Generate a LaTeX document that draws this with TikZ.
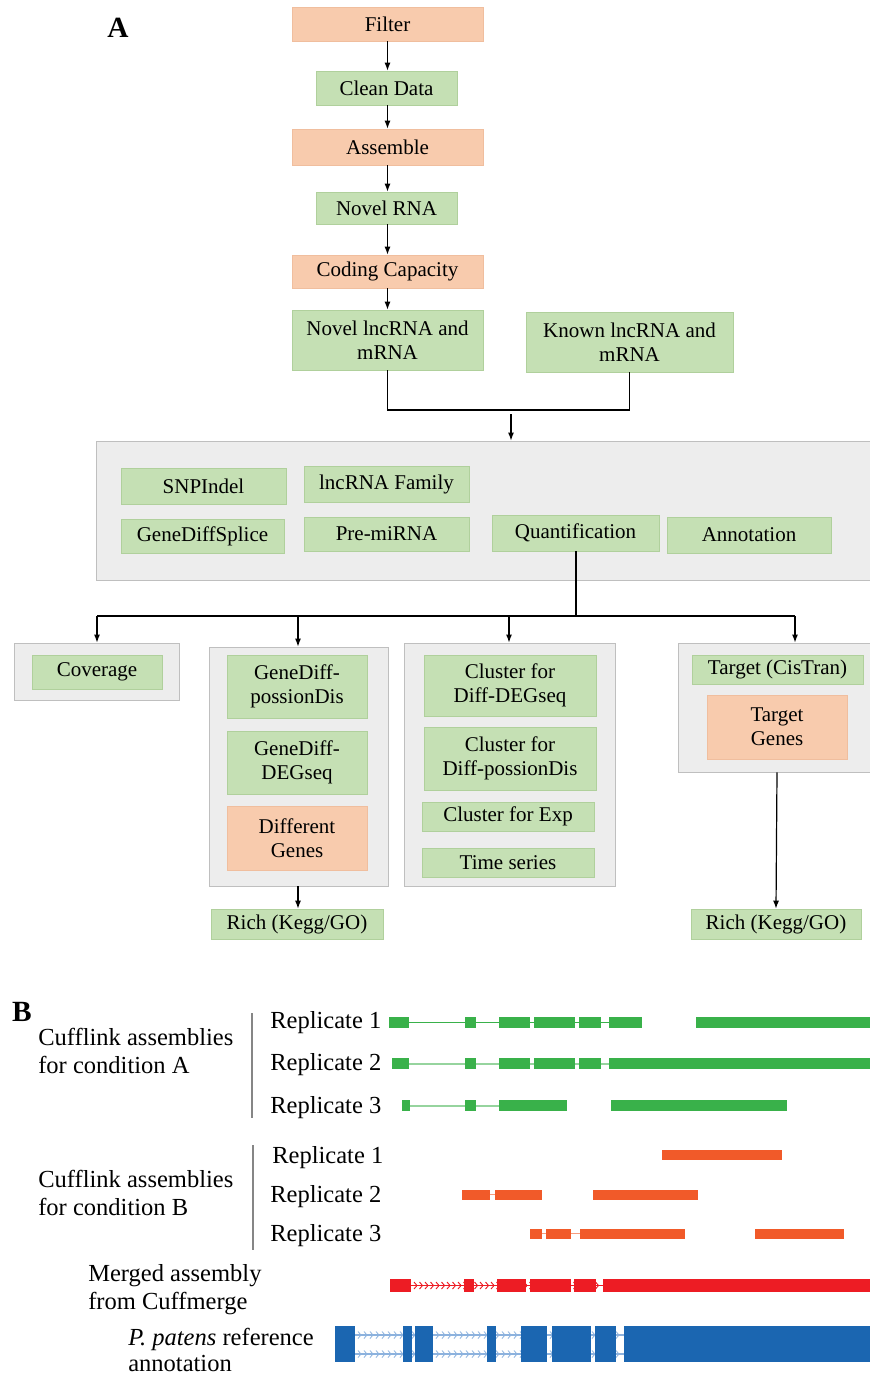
\documentclass[tikz,border=0pt]{standalone}
\usepackage{fontspec}
\setmainfont{Liberation Serif}
\usetikzlibrary{arrows.meta}
\definecolor{G}{RGB}{197, 224, 180}
\definecolor{Gd}{RGB}{176, 208, 156}
\definecolor{S}{RGB}{248, 203, 173}
\definecolor{Sd}{RGB}{240, 190, 158}
\definecolor{Gr}{RGB}{237, 237, 237}
\definecolor{Grd}{RGB}{191, 191, 191}
\definecolor{TG}{RGB}{57, 177, 74}
\definecolor{TGl}{RGB}{150, 212, 158}
\definecolor{TO}{RGB}{241, 90, 41}
\definecolor{TR}{RGB}{237, 28, 36}
\definecolor{TB}{RGB}{27, 102, 177}
\definecolor{TBl}{RGB}{140, 178, 222}

\newcommand{\boxfont}{\fontsize{15.75}{18}\selectfont}
\newcommand{\trackfont}{\fontsize{18.4}{21}\selectfont}

\tikzset{
  wh/.style 2 args={minimum width=#1*0.75pt, minimum height=#2*0.75pt},
  gbox/.style={fill=G, draw=Gd, line width=0.5pt, inner sep=0pt, align=center, font=\boxfont},
  sbox/.style={fill=S, draw=Sd, line width=0.5pt, inner sep=0pt, align=center, font=\boxfont},
  grp/.style={fill=Gr, draw=Grd, line width=0.6pt, inner sep=0pt},
  arr/.style={-{Latex[length=6pt, width=4.5pt]}, line width=0.9pt},
  link/.style={line width=0.9pt},
  lbl/.style={anchor=west, align=left, inner sep=0pt, font=\trackfont},
}

\begin{document}
\begin{tikzpicture}[x=0.75pt, y=-0.75pt]
  \useasboundingbox (0,0) rectangle (870,1377);

  % ---- part A: pipeline
  \node[font=\bfseries\fontsize{22}{24}\selectfont] (labA) at (118,28) {A};
  \node[sbox, wh={191}{34}] (filter) at (387.5,24) {Filter};
  \node[gbox, wh={141}{34}] (clean) at (386.5,88) {Clean Data};
  \node[sbox, wh={191}{36}] (assem) at (387.5,147) {Assemble};
  \node[gbox, wh={141}{32}] (novrna) at (386.5,208) {Novel RNA};
  \node[sbox, wh={191}{33}] (coding) at (387.5,271.5) {Coding Capacity};
  \node[gbox, wh={191}{60}] (novlnc) at (387.5,340) {Novel lncRNA and\\mRNA};
  \node[gbox, wh={207}{60}] (knownlnc) at (629.5,342) {Known lncRNA and\\mRNA};

  \draw[arr] (filter.south) -- (filter.south |- clean.north);
  \draw[arr] (clean.south -| filter.south) -- (filter.south |- assem.north);
  \draw[arr] (assem.south) -- (assem.south |- novrna.north);
  \draw[arr] (novrna.south -| assem.south) -- (assem.south |- coding.north);
  \draw[arr] (coding.south) -- (coding.south |- novlnc.north);

  % analysis block
  \node[grp, wh={774}{139}] (analysis) at (483,510.5) {};
  \node[gbox, wh={165}{36}] (snp) at (203.5,486) {SNPIndel};
  \node[gbox, wh={165}{36}] (family) at (386.5,484) {lncRNA Family};
  \node[gbox, wh={163}{34}] (splice) at (202.5,536) {GeneDiffSplice};
  \node[gbox, wh={165}{34}] (premi) at (386.5,534) {Pre-miRNA};
  \node[gbox, wh={167}{36}] (quant) at (575.5,533) {Quantification};
  \node[gbox, wh={164}{36}] (annot) at (749,535) {Annotation};

  \coordinate (join) at (511,410);
  \coordinate (drop) at (511,414);
  \draw[link] (novlnc.south) |- (join) -| (knownlnc.south);
  \draw[arr] (drop) -- (drop |- analysis.north);

  % downstream groups
  \node[grp, wh={165}{57}] (covgrp) at (96.5,671.5) {};
  \node[gbox, wh={130}{34}] (cov) at (97,672) {Coverage};

  \node[grp, wh={179}{239}] (diffgrp) at (298.5,766.5) {};
  \node[gbox, wh={140}{63}] (gdpois) at (297,686.5) {GeneDiff-\\possionDis};
  \node[gbox, wh={140}{63}] (gddeg) at (297,762.5) {GeneDiff-\\DEGseq};
  \node[sbox, wh={140}{64}] (diffgenes) at (297,838) {Different\\Genes};

  \node[grp, wh={211}{243}] (clugrp) at (509.5,764.5) {};
  \node[gbox, wh={172}{61}] (cludeg) at (510,685.5) {Cluster for\\Diff-DEGseq};
  \node[gbox, wh={172}{63}] (clupois) at (510,758.5) {Cluster for\\Diff-possionDis};
  \node[gbox, wh={172}{29}] (cluexp) at (508,816.5) {Cluster for Exp};
  \node[gbox, wh={172}{29}] (time) at (508,862.5) {Time series};

  \node[grp, wh={192}{129}] (tgtgrp) at (774,707.5) {};
  \node[gbox, wh={171}{29}] (target) at (777.5,669.5) {Target (CisTran)};
  \node[sbox, wh={140}{64}] (tgenes) at (777,727) {Target\\Genes};

  \node[gbox, wh={172}{30}] (rich1) at (297,924) {Rich (Kegg/GO)};
  \node[gbox, wh={170}{30}] (rich2) at (776,924) {Rich (Kegg/GO)};

  \coordinate (split) at (576,616);
  \coordinate (bus1) at (97,616);
  \coordinate (bus2) at (298,616);
  \coordinate (bus3) at (509,616);
  \coordinate (bus4) at (795,616);
  \draw[link] (quant.south -| split) -- (split);
  \draw[link] (bus1) -- (bus4);
  \draw[arr] (bus1) -- (bus1 |- covgrp.north);
  \draw[arr] (bus2) -- (bus2 |- diffgrp.north);
  \draw[arr] (bus3) -- (bus3 |- clugrp.north);
  \draw[arr] (bus4) -- (bus4 |- tgtgrp.north);
  \draw[arr] (diffgrp.south -| bus2) -- (bus2 |- rich1.north);
  \draw[arr] (tgenes |- tgtgrp.south) -- (rich2.north);

  % ---- part B: assemblies
  \node[font=\bfseries\fontsize{22}{24}\selectfont] (labB) at (22,1012) {B};
  \node[lbl] (condA) at (38,1051) {Cufflink assemblies\\for condition A};
  \node[lbl] (condB) at (38,1193) {Cufflink assemblies\\for condition B};
  \node[lbl] (merged) at (88,1290) {Merged assembly\\from Cuffmerge};
  \node[lbl, font=\fontsize{18.4}{20}\selectfont] (ref) at (128,1350) {\textit{P. patens} reference\\annotation};
  \draw[Grd!70!black, line width=0.9pt] (252,1013) -- (252,1118);
  \draw[Grd!70!black, line width=0.9pt] (253,1145) -- (253,1250);
  \node[lbl] (ra1) at (270,1023) {Replicate 1};
  \node[lbl] (ra2) at (270,1065) {Replicate 2};
  \node[lbl] (ra3) at (270,1108) {Replicate 3};
  \node[lbl] (rb1) at (272,1158) {Replicate 1};
  \node[lbl] (rb2) at (270,1197) {Replicate 2};
  \node[lbl] (rb3) at (270,1236) {Replicate 3};

  % condition A tracks
  \draw[TG, line width=1.2pt] (409,1022.5) -- (609,1022.5);
  \foreach \a/\b in {389/409, 465/476, 499/530, 534/575, 579/601, 609/642, 696/870}
    \fill[TG] (\a,1017) rectangle (\b,1028);
  \draw[TGl, line width=1.5pt] (409,1063.5) -- (609,1063.5);
  \foreach \a/\b in {392/409, 465/476, 499/530, 534/575, 579/601, 609/870}
    \fill[TG] (\a,1058) rectangle (\b,1069);
  \draw[TGl, line width=1.5pt] (410,1105.5) -- (499,1105.5);
  \foreach \a/\b in {402/410, 465/476, 499/567, 611/787}
    \fill[TG] (\a,1100) rectangle (\b,1111);

  % condition B tracks
  \fill[TO] (662,1150) rectangle (782,1160);
  \draw[TO!60, line width=1pt] (490,1194.5) -- (495,1194.5);
  \foreach \a/\b in {462/490, 495/542, 593/698}
    \fill[TO] (\a,1189.5) rectangle (\b,1199.5);
  \draw[TO!60, line width=1pt] (542,1233.5) -- (580,1233.5);
  \foreach \a/\b in {530/542, 546/571, 580/685, 755/844}
    \fill[TO] (\a,1228.5) rectangle (\b,1238.5);

  % merged
  \draw[TR, line width=0.8pt] (411,1285.5) -- (603,1285.5);
  \foreach \x in {416,421.5,...,600}
    \draw[TR, line width=0.7pt] (\x-2,1282) -- (\x+1,1285.5) -- (\x-2,1289);
  \foreach \a/\b in {390/411, 464/474, 497/526, 530/571, 574/596, 603/870}
    \fill[TR] (\a,1279) rectangle (\b,1292);

  % reference
  \foreach \y in {1335,1354} {
    \draw[TBl, line width=1pt] (355,\y) -- (624,\y);
    \foreach \x in {360,366,...,620}
      \draw[TBl, line width=0.6pt] (\x-2,\y-3.5) -- (\x+1,\y) -- (\x-2,\y+3.5);
  }
  \foreach \a/\b in {335/355, 403/412, 415/433, 487/496, 521/547, 552/591, 595/616, 624/870}
    \fill[TB] (\a,1326) rectangle (\b,1362);
\end{tikzpicture}
\end{document}
